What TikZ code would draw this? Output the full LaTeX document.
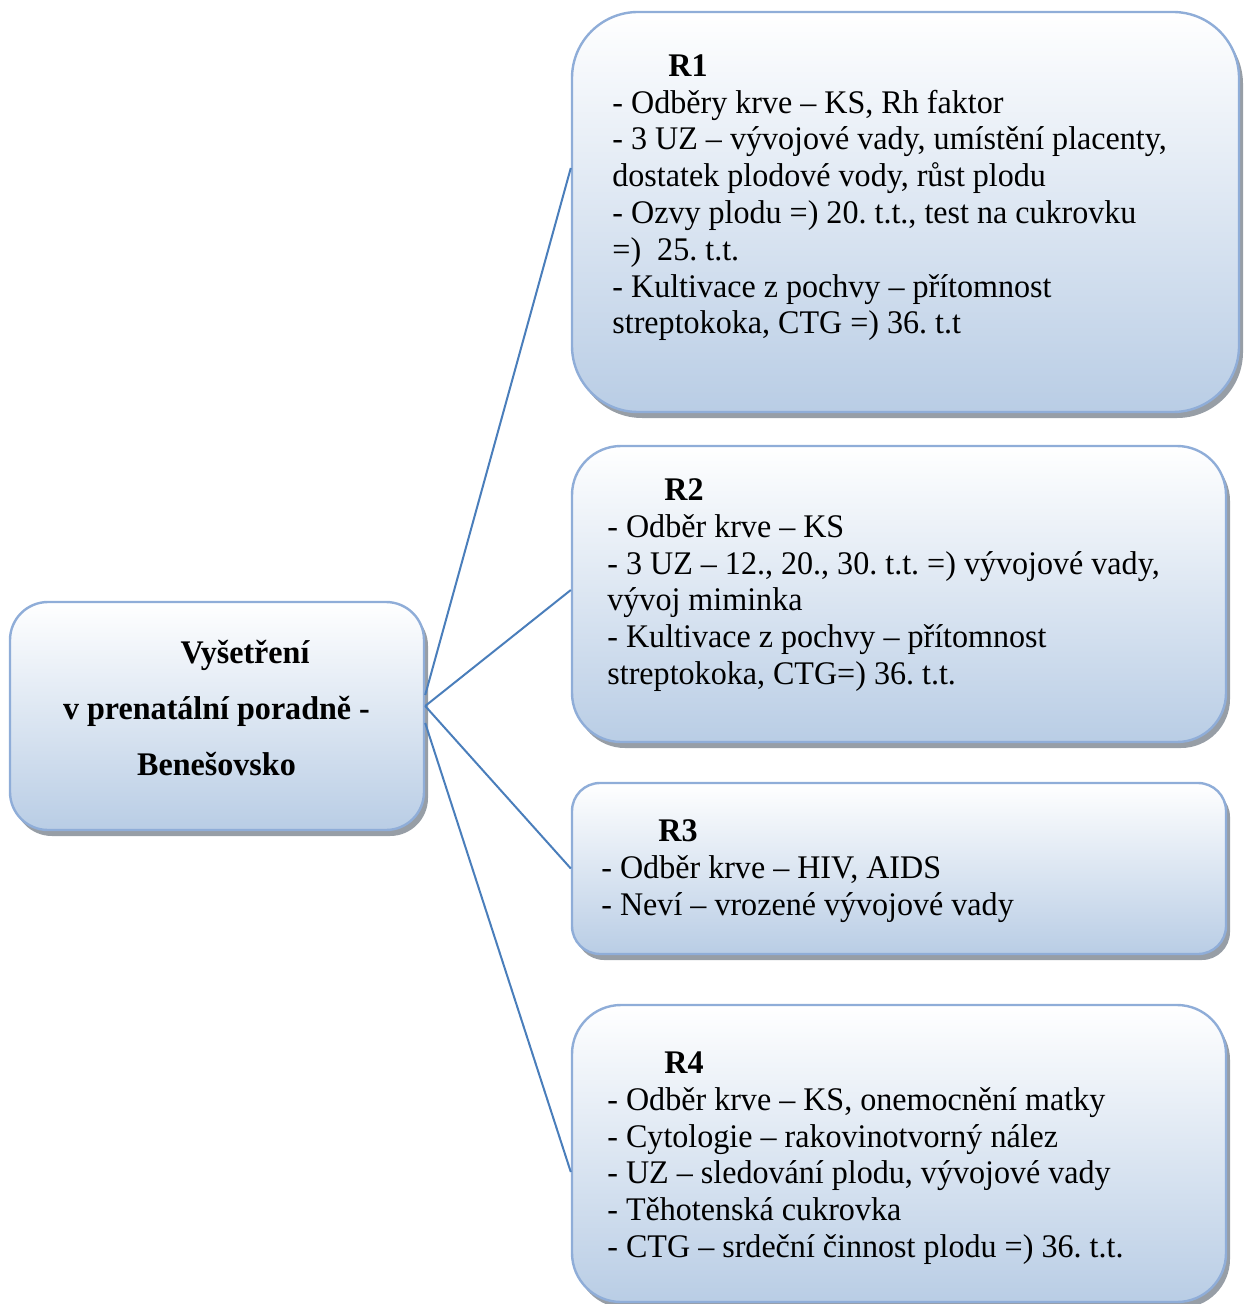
\documentclass[tikz,border=0pt]{standalone}
\usepackage{fontspec}
\setmainfont{Liberation Serif}[FakeStretch=0.972]
\usetikzlibrary{shadows}
\definecolor{boxblue}{HTML}{B9CDE5}
\definecolor{boxline}{HTML}{8FADD8}
\definecolor{linkblue}{HTML}{4A7EBB}
\definecolor{shadowgrey}{HTML}{8C939C}
\frenchspacing
\tikzset{
  rbox/.style={rectangle, draw=boxline, line width=1.2pt, top color=white, bottom color=boxblue,
    drop shadow={shadow xshift=2pt, shadow yshift=-3pt, fill=shadowgrey, opacity=0.9}},
  btext/.style={anchor=north west, inner sep=0pt, align=left, font=\fontsize{16.5pt}{18.4pt}\selectfont},
  rtext/.style={anchor=north, inner sep=0pt, align=center, font=\fontsize{16.5pt}{28pt}\selectfont\bfseries},
  link/.style={draw=linkblue, line width=1pt}
}
\begin{document}
\begin{tikzpicture}[x=0.5pt,y=-0.5pt]
\useasboundingbox (0,0) rectangle (1250,1304);
% boxes
\node[rbox, rounded corners=19pt, minimum width=207pt, minimum height=114pt] (root) at (217,716) {};
\node[rbox, rounded corners=33pt, minimum width=333.5pt, minimum height=200pt] (r1) at (905.5,212) {};
\node[rbox, rounded corners=24.5pt, minimum width=327pt, minimum height=148pt] (r2) at (899,594) {};
\node[rbox, rounded corners=14pt, minimum width=327pt, minimum height=85.5pt] (r3) at (899,868.5) {};
\node[rbox, rounded corners=24.5pt, minimum width=327pt, minimum height=148.5pt] (r4) at (899,1153.5) {};
% texts
\node[rtext] (roott) at (216.5,639) {\rule{0pt}{12pt}\hspace*{28.5pt}Vyšetření\\ v prenatální poradně -\\ Benešovsko};
\node[btext] (r1t) at (612,52) {\rule{0pt}{12pt}\hspace*{28pt}\textbf{R1}\\
- Odběry krve – KS, Rh faktor\\
- 3 UZ – vývojové vady, umístění placenty,\\
dostatek plodové vody, růst plodu\\
- Ozvy plodu =) 20. t.t., test na cukrovku\\
=)\ \ 25. t.t.\\
- Kultivace z pochvy – přítomnost\\
streptokoka, CTG =) 36. t.t};
\node[btext] (r2t) at (607,476) {\rule{0pt}{12pt}\hspace*{28.5pt}\textbf{R2}\\
- Odběr krve – KS\\
- 3 UZ – 12., 20., 30. t.t. =) vývojové vady,\\
vývoj miminka\\
- Kultivace z pochvy – přítomnost\\
streptokoka, CTG=) 36. t.t.};
\node[btext] (r3t) at (601,817) {\rule{0pt}{12pt}\hspace*{28.5pt}\textbf{R3}\\
- Odběr krve – HIV, AIDS\\
- Neví – vrozené vývojové vady};
\node[btext] (r4t) at (607,1049) {\rule{0pt}{12pt}\hspace*{28.5pt}\textbf{R4}\\
- Odběr krve – KS, onemocnění matky\\
- Cytologie – rakovinotvorný nález\\
- UZ – sledování plodu, vývojové vady\\
- Těhotenská cukrovka\\
- CTG – srdeční činnost plodu =) 36. t.t.};
% connectors
\draw[link] ([yshift=10.5pt]root.east) -- ([yshift=22pt]r1.west);
\draw[link] ([yshift=5pt]root.east) -- ([yshift=2pt]r2.west);
\draw[link] ([yshift=5pt]root.east) -- (r3.west);
\draw[link] ([yshift=-3.5pt]root.east) -- ([yshift=-9.25pt]r4.west);
\end{tikzpicture}
\end{document}
